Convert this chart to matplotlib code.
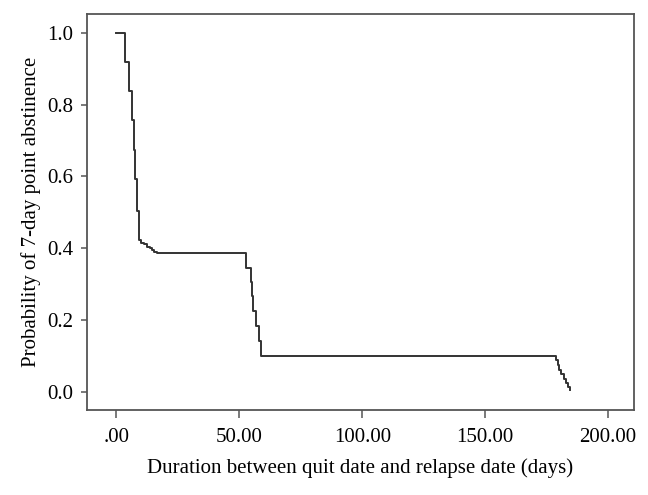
import matplotlib
matplotlib.use('Agg')
import matplotlib.pyplot as plt

# Kaplan-Meier style survival curve (days, probability)
days = [0, 3.5, 5.0, 6.3, 7.0, 7.7, 8.5, 9.4, 10.2, 11.3, 12.5, 13.5, 14.5, 15.5, 16.6,
        52.9, 54.6, 55.1, 55.6, 56.8, 57.9, 59.0,
        178.7, 179.4, 180.1, 181.0, 181.9, 182.8, 183.7, 184.5]
prob = [1.0, 0.918, 0.838, 0.758, 0.674, 0.593, 0.504, 0.423, 0.416, 0.411, 0.405, 0.400, 0.395, 0.390, 0.386,
        0.344, 0.305, 0.266, 0.226, 0.184, 0.143, 0.100,
        0.088, 0.075, 0.062, 0.050, 0.037, 0.025, 0.013, 0.005]

xticks = [0, 50, 100, 150, 200]
xtick_labels = ['.00', '50.00', '100.00', '150.00', '200.00']
yticks = [0.0, 0.2, 0.4, 0.6, 0.8, 1.0]
ytick_labels = ['0.0', '0.2', '0.4', '0.6', '0.8', '1.0']

plt.rcParams['font.family'] = ['Liberation Serif', 'DejaVu Serif']

fig = plt.figure(figsize=(6.48, 4.95), dpi=100)
ax = fig.add_axes([0.134, 0.172, 0.844, 0.8])

ax.step(days, prob, where='post', color='#333333', linewidth=1.4)

ax.set_xlim(-12, 210.4)
ax.set_ylim(-0.05, 1.053)
ax.set_xticks(xticks)
ax.set_xticklabels(xtick_labels)
ax.set_yticks(yticks)
ax.set_yticklabels(ytick_labels)

for s in ax.spines.values():
    s.set_color('#555555')
    s.set_linewidth(1.3)

ax.tick_params(axis='x', length=6, width=1.1, color='#555555', labelsize=15, pad=7)
ax.tick_params(axis='y', length=4, width=1.1, color='#555555', labelsize=15, pad=6)

ax.set_xlabel('Duration between quit date and relapse date (days)', fontsize=15, labelpad=8)
ax.set_ylabel('Probability of 7-day point abstinence', fontsize=15, labelpad=4)

fig.savefig('out.png', dpi=100)
